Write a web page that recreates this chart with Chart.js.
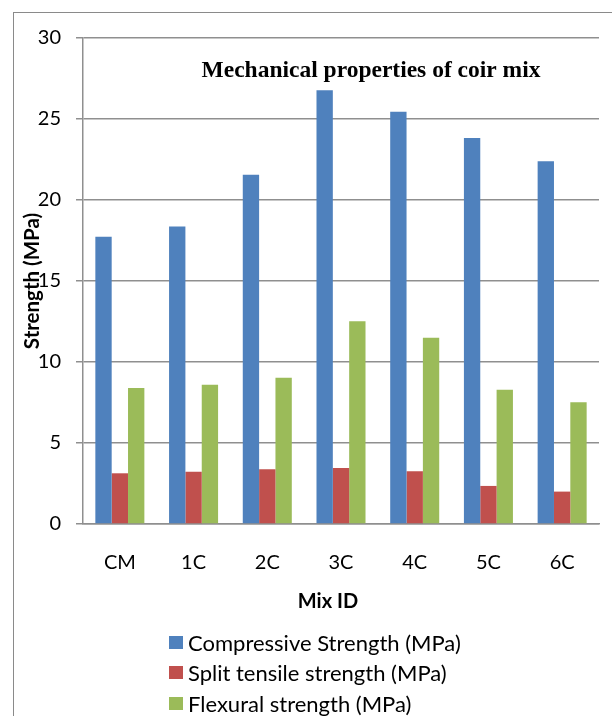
<!DOCTYPE html>
<html>
<head>
<meta charset="utf-8">
<script src="https://cdn.jsdelivr.net/npm/chart.js@4/dist/chart.umd.min.js"></script>
<style>
  html, body { margin: 0; padding: 0; background: #fff; }
  #wrap { position: relative; width: 612px; height: 716px; overflow: hidden; }
  #frame { position: absolute; left: 13px; top: 12px; width: 640px; height: 760px;
           border-left: 1px solid #8a8a8a; border-top: 1px solid #8a8a8a; box-sizing: border-box; }
  canvas { position: absolute; left: 0; top: 0; }
  #legend { position: absolute; left: 169px; top: 627px; font-family: Lato, "Liberation Sans", sans-serif;
            font-size: 22px; color: #000; }
  #legend .row { height: 30.5px; display: flex; align-items: center; white-space: nowrap; }
  #legend .box { width: 14px; height: 13px; margin-right: 5px; flex: none; }
</style>
</head>
<body>
<div id="wrap">
  <div id="frame"></div>
  <canvas id="c" width="612" height="716"></canvas>
  <div id="legend"></div>
</div>
<script>
// Mix designs and measured strengths (MPa)
const categories = ['CM', '1C', '2C', '3C', '4C', '5C', '6C'];
const compressive = [17.73, 18.37, 21.56, 26.78, 25.44, 23.83, 22.39];
const splitTensile = [3.13, 3.22, 3.38, 3.46, 3.26, 2.35, 2.00];
const flexural = [8.39, 8.60, 9.03, 12.52, 11.50, 8.29, 7.51];
const seriesNames = ['Compressive Strength (MPa)', 'Split tensile strength (MPa)', 'Flexural strength (MPa)'];
const seriesColors = ['#4F81BD', '#C0504D', '#9BBB59'];
const yTicks = { min: 0, max: 30, step: 5 };

const chartTitle = 'Mechanical properties of coir mix';
const yTitle = 'Strength (MPa)';
const xTitle = 'Mix ID';

const UI_FONT = 'Lato, "Liberation Sans", sans-serif';
const GRID = '#8f8f8f';

// Titles drawn onto the canvas after the datasets
const titlesPlugin = {
  id: 'titles',
  afterDraw(chart) {
    const { ctx, chartArea } = chart;
    ctx.save();
    ctx.fillStyle = '#000';
    ctx.textBaseline = 'middle';
    ctx.textAlign = 'center';
    ctx.font = 'bold 23.5px "Liberation Serif", "Times New Roman", serif';
    ctx.fillText(chartTitle, 371, 71);

    ctx.font = 'bold 20px ' + UI_FONT;
    ctx.fillText(xTitle, 328, 602);

    ctx.font = 'bold 20.5px ' + UI_FONT;
    ctx.translate(32, (chartArea.top + chartArea.bottom) / 2);
    ctx.rotate(-Math.PI / 2);
    ctx.fillText(yTitle, 0, 0);
    ctx.restore();
  }
};

const datasets = [compressive, splitTensile, flexural].map((vals, i) => ({
  label: seriesNames[i],
  data: vals,
  backgroundColor: seriesColors[i],
  borderWidth: 0,
  categoryPercentage: 0.665,
  barPercentage: 1.0
}));

const chart = new Chart(document.getElementById('c'), {
  type: 'bar',
  data: { labels: categories, datasets },
  options: {
    responsive: false,
    animation: false,
    layout: { padding: { top: 38, right: 13, left: 0, bottom: 0 } },
    plugins: {
      legend: { display: false },
      title: { display: false },
      tooltip: { enabled: false }
    },
    scales: {
      x: {
        grid: { display: false, drawTicks: false },
        border: { display: true, color: GRID, width: 1.5 },
        ticks: { color: '#000', font: { family: UI_FONT, size: 20 }, padding: 27 },
        afterFit(scale) { scale.height = 716 - 524; }
      },
      y: {
        min: yTicks.min,
        max: yTicks.max,
        grid: { color: GRID, lineWidth: 1.5, tickLength: 7 },
        border: { display: true, color: GRID, width: 1.5 },
        ticks: { stepSize: yTicks.step, color: '#000', font: { family: UI_FONT, size: 20 }, padding: 15 },
        afterFit(scale) { scale.width = 83; }
      }
    }
  },
  plugins: [titlesPlugin]
});

// Legend listing the series, one per row
const legendEl = document.getElementById('legend');
chart.data.datasets.forEach(ds => {
  const row = document.createElement('div');
  row.className = 'row';
  const box = document.createElement('span');
  box.className = 'box';
  box.style.background = ds.backgroundColor;
  const txt = document.createElement('span');
  txt.textContent = ds.label;
  row.appendChild(box);
  row.appendChild(txt);
  legendEl.appendChild(row);
});
</script>
</body>
</html>
